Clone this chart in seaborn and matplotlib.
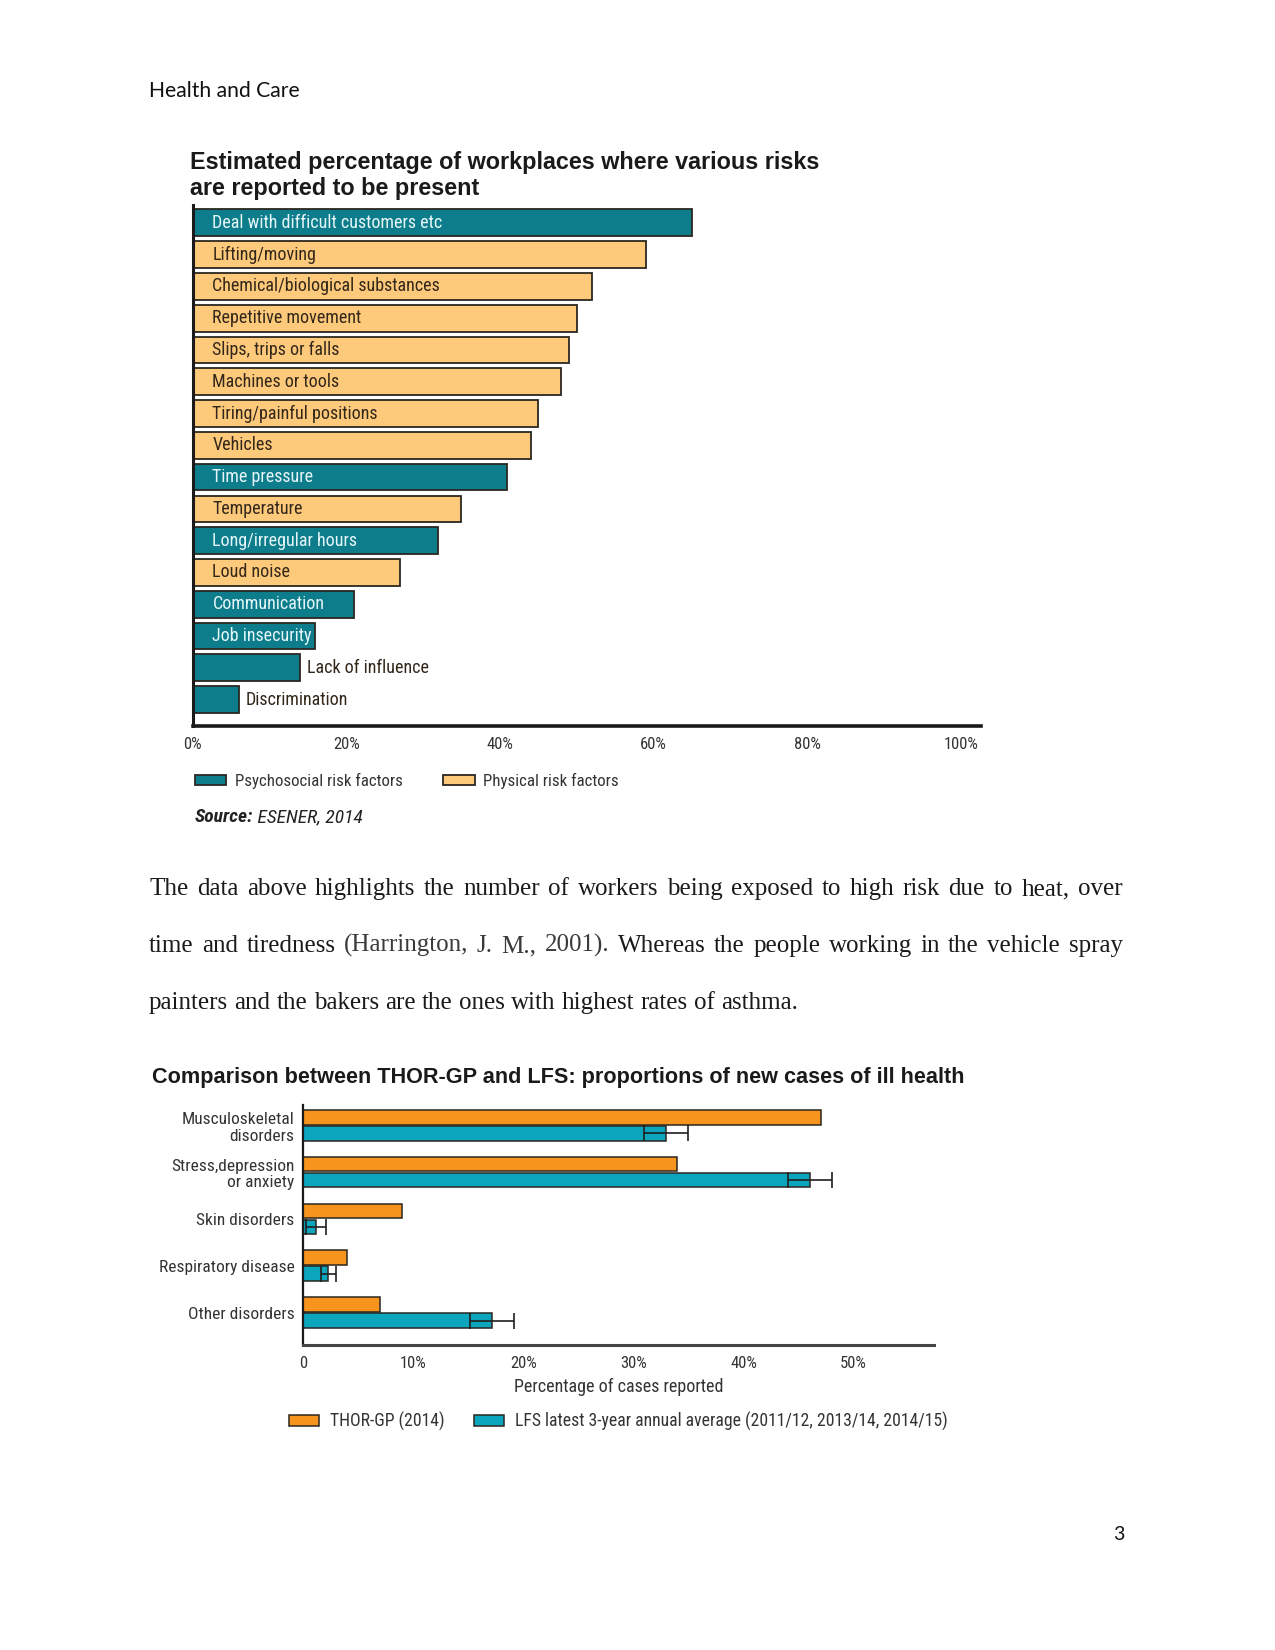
import numpy as np
import pandas as pd
import matplotlib
matplotlib.use("Agg")
import matplotlib.pyplot as plt
from matplotlib import font_manager
from matplotlib.transforms import IdentityTransform
from matplotlib.patches import Patch
import seaborn as sns

# ---------------- data ----------------
header_text = "Health and Care"
page_number = "3"

risk_title = ["Estimated percentage of workplaces where various risks",
              "are reported to be present"]
risks = ["Deal with difficult customers etc", "Lifting/moving",
         "Chemical/biological substances", "Repetitive movement",
         "Slips, trips or falls", "Machines or tools",
         "Tiring/painful positions", "Vehicles", "Time pressure",
         "Temperature", "Long/irregular hours", "Loud noise",
         "Communication", "Job insecurity", "Lack of influence",
         "Discrimination"]
risk_pct = [65, 59, 52, 50, 49, 48, 45, 44, 41, 35, 32, 27, 21, 16, 14, 6]
risk_type = ["Psychosocial risk factors", "Physical risk factors",
             "Physical risk factors", "Physical risk factors",
             "Physical risk factors", "Physical risk factors",
             "Physical risk factors", "Physical risk factors",
             "Psychosocial risk factors", "Physical risk factors",
             "Psychosocial risk factors", "Physical risk factors",
             "Psychosocial risk factors", "Psychosocial risk factors",
             "Psychosocial risk factors", "Psychosocial risk factors"]
risk_types = ["Psychosocial risk factors", "Physical risk factors"]
risk_ticks = [0, 20, 40, 60, 80, 100]
risk_source = ("Source:", " ESENER, 2014")

body_lines = [
    [("The data above highlights the number of workers being exposed to high risk due to heat, over", "k")],
    [("time and tiredness", "k"), ("(Harrington, J. M., 2001).", "#3a3a3a"),
     ("Whereas the people working in the vehicle spray", "k")],
    [("painters and the bakers are the ones with highest rates of asthma.", "k")],
]

ill_title = "Comparison between THOR-GP and LFS: proportions of new cases of ill health"
conditions = ["Musculoskeletal\ndisorders", "Stress,depression\nor anxiety",
              "Skin disorders", "Respiratory disease", "Other disorders"]
sources = ["THOR-GP (2014)",
           "LFS latest 3-year annual average (2011/12, 2013/14, 2014/15)"]
thor_gp = [47, 34, 9, 4, 7]
lfs = [33, 46, 1.2, 2.3, 17.2]
lfs_err = [2, 2, 0.9, 0.7, 2]
ill_ticks = [0, 10, 20, 30, 40, 50]
ill_ticklabels = ["0", "10%", "20%", "30%", "40%", "50%"]
ill_xlabel = "Percentage of cases reported"

# ---------------- styling ----------------
W, H = 1275, 1650
sns.set_theme(style="white")
avail = {f.name for f in font_manager.fontManager.ttflist}
def pick(cands):
    for c in cands:
        if c in avail:
            return c
    return "DejaVu Sans"
NARROW = pick(["Liberation Sans Narrow", "DejaVu Sans Condensed", "Roboto Condensed", "Liberation Sans"])
BOLDF = pick(["Liberation Sans", "Roboto", "DejaVu Sans"])
SERIF = pick(["Liberation Serif", "DejaVu Serif"])
HEAD = pick(["Lato", "Open Sans", "DejaVu Sans"])
plt.rcParams["font.family"] = [NARROW, "DejaVu Sans"]

TEAL = "#0d7d8c"
LORANGE = "#fdc97b"
ORANGE = "#f6941e"
CYAN = "#0ba5be"
EDGE = "#2b2620"

fig = plt.figure(figsize=(W / 100, H / 100), dpi=100)
fig.patch.set_facecolor("white")
ID = IdentityTransform()

def ptext(x, y, s, **kw):
    """text in page pixel coordinates (origin top-left)"""
    return fig.text(x, H - y, s, transform=ID, **kw)

def axes_px(l, t, r, b):
    return fig.add_axes([l / W, 1 - b / H, (r - l) / W, (b - t) / H])

# ---------------- header / footer ----------------
ptext(149, 91, header_text, family=[HEAD, "DejaVu Sans"], fontsize=15.2,
      va="center", ha="left", color="#111111")
ptext(1124, 1535, page_number, family=[HEAD, "DejaVu Sans"], fontsize=14,
      va="center", ha="right", color="#111111")

# ---------------- chart 1 ----------------
ptext(190, 163, risk_title[0], family=[BOLDF, "DejaVu Sans"], fontsize=16.8, fontweight="bold",
      va="center", color="#1a1a1a")
ptext(190, 188, risk_title[1], family=[BOLDF, "DejaVu Sans"], fontsize=16.8, fontweight="bold",
      va="center", color="#1a1a1a")

df1 = pd.DataFrame({"risk": risks, "pct": risk_pct, "type": risk_type})
ax1 = axes_px(192.5, 205, 981.5, 726)
sns.barplot(data=df1, x="pct", y="risk", hue="type", hue_order=risk_types, dodge=False,
            palette={risk_types[0]: TEAL, risk_types[1]: LORANGE}, saturation=1,
            width=0.84, edgecolor=EDGE, linewidth=1.3, legend=False, ax=ax1)
ax1.set_xlim(0, 102.7)
ax1.set_ylim(len(risks) - 0.17, -0.56)
ax1.set_xlabel("")
ax1.set_ylabel("")
ax1.set_yticks([])
ax1.set_xticks(risk_ticks)
ax1.set_xticklabels([f"{t}%" for t in risk_ticks], fontsize=12, color="#333333")
ax1.tick_params(axis="x", direction="out", length=4, width=1, color="#222222", pad=4)
for s in ["top", "right"]:
    ax1.spines[s].set_visible(False)
ax1.spines["left"].set_linewidth(2.2)
ax1.spines["left"].set_color("#1a1a1a")
ax1.spines["bottom"].set_linewidth(2.6)
ax1.spines["bottom"].set_color("#1a1a1a")
ax1.set_facecolor("none")
for i, (name, v, t) in enumerate(zip(risks, risk_pct, risk_type)):
    if v >= 15:
        col = "#e6f6f8" if t == risk_types[0] else "#33271a"
        ax1.text(2.6, i, name, va="center", ha="left", fontsize=13, color=col)
    else:
        ax1.annotate(name, (v, i), xytext=(7, 0), textcoords="offset pixels",
                     va="center", ha="left", fontsize=13, color="#33271a")

leg1 = [Patch(facecolor=TEAL, edgecolor=EDGE, linewidth=1.3, label=risk_types[0]),
        Patch(facecolor=LORANGE, edgecolor=EDGE, linewidth=1.3, label=risk_types[1])]
fig.legend(handles=leg1, loc="center left", bbox_to_anchor=(195 / W, 1 - 781 / H),
           ncol=2, frameon=False, fontsize=12.2, handlelength=1.85, handleheight=0.6,
           handletextpad=0.5, columnspacing=2.4, borderaxespad=0, borderpad=0,
           labelcolor="#333333")

t_src = ptext(195, 817, risk_source[0], fontsize=14, fontweight="bold", style="italic",
              va="center", color="#222222")
fig.canvas.draw()
r = fig.canvas.get_renderer()
bb = t_src.get_window_extent(r)
fig.text(bb.x1, H - 817, risk_source[1], transform=ID, fontsize=14, style="italic",
         va="center", color="#222222")

# ---------------- body text (justified) ----------------
def draw_line(segs, x0, x1, y, justify=True, fs=18):
    words = []
    for txt, col in segs:
        for w in txt.split(" "):
            words.append((w, col))
    items = []
    for w, col in words:
        t = fig.text(0, H - y, w, transform=ID, fontsize=fs, family=[SERIF, "DejaVu Serif"],
                     color=col, va="baseline", ha="left")
        items.append(t)
    fig.canvas.draw()
    rr = fig.canvas.get_renderer()
    widths = [t.get_window_extent(rr).width for t in items]
    sp = fig.text(0, 0, "a a", transform=ID, fontsize=fs, family=[SERIF])
    sp2 = fig.text(0, 0, "aa", transform=ID, fontsize=fs, family=[SERIF])
    space = sp.get_window_extent(rr).width - sp2.get_window_extent(rr).width
    sp.remove(); sp2.remove()
    if justify and len(items) > 1:
        gap = (x1 - x0 - sum(widths)) / (len(items) - 1)
    else:
        gap = space
    x = x0
    for t, w in zip(items, widths):
        t.set_x(x)
        x += w + gap

draw_line(body_lines[0], 149, 1122.5, 895)
draw_line(body_lines[1], 149, 1122.5, 952)
draw_line(body_lines[2], 149, 1122.5, 1009, justify=False)

# ---------------- chart 2 ----------------
ptext(151.5, 1077, ill_title, family=[BOLDF, "DejaVu Sans"], fontsize=15.6, fontweight="bold",
      va="center", color="#1a1a1a")

df2 = pd.DataFrame({
    "condition": conditions * 2,
    "value": thor_gp + lfs,
    "source": [sources[0]] * len(conditions) + [sources[1]] * len(conditions),
})
ax2 = axes_px(303, 1104.6, 934, 1344.5)
sns.barplot(data=df2, x="value", y="condition", hue="source", hue_order=sources,
            palette={sources[0]: ORANGE, sources[1]: CYAN}, saturation=1, width=0.68, gap=0.08,
            edgecolor=EDGE, linewidth=1.1, legend=False, ax=ax2)
ypos = np.arange(len(conditions)) + 0.17
ax2.errorbar(lfs, ypos, xerr=lfs_err, fmt="none", ecolor="#1f1f1f",
             elinewidth=1.2, capsize=6, capthick=1.2)
ax2.set_xlim(0, 57.3)
ax2.set_ylim(4.68, -0.44)
ax2.set_xlabel(ill_xlabel, fontsize=13, color="#333333", labelpad=5)
ax2.set_ylabel("")
ax2.set_xticks(ill_ticks)
ax2.set_xticklabels(ill_ticklabels, fontsize=12, color="#333333")
ax2.set_yticks(range(len(conditions)))
ax2.set_yticklabels(conditions, fontsize=12.5, color="#333333", linespacing=1.15)
ax2.tick_params(axis="x", direction="out", length=3, width=1, color="#333333", pad=5)
ax2.tick_params(axis="y", length=0, pad=6)
for s in ["top", "right"]:
    ax2.spines[s].set_visible(False)
ax2.spines["left"].set_linewidth(1.6)
ax2.spines["left"].set_color("#1a1a1a")
ax2.spines["bottom"].set_linewidth(2.2)
ax2.spines["bottom"].set_color("#444444")
ax2.set_facecolor("none")

leg2 = [Patch(facecolor=ORANGE, edgecolor=EDGE, linewidth=1.1, label=sources[0]),
        Patch(facecolor=CYAN, edgecolor=EDGE, linewidth=1.1, label=sources[1])]
fig.legend(handles=leg2, loc="center left", bbox_to_anchor=(289 / W, 1 - 1421 / H),
           ncol=2, frameon=False, fontsize=12.7, handlelength=1.72, handleheight=0.6,
           handletextpad=0.62, columnspacing=1.65, borderaxespad=0, borderpad=0,
           labelcolor="#333333")

fig.savefig("out.png", dpi=100, facecolor="white")
